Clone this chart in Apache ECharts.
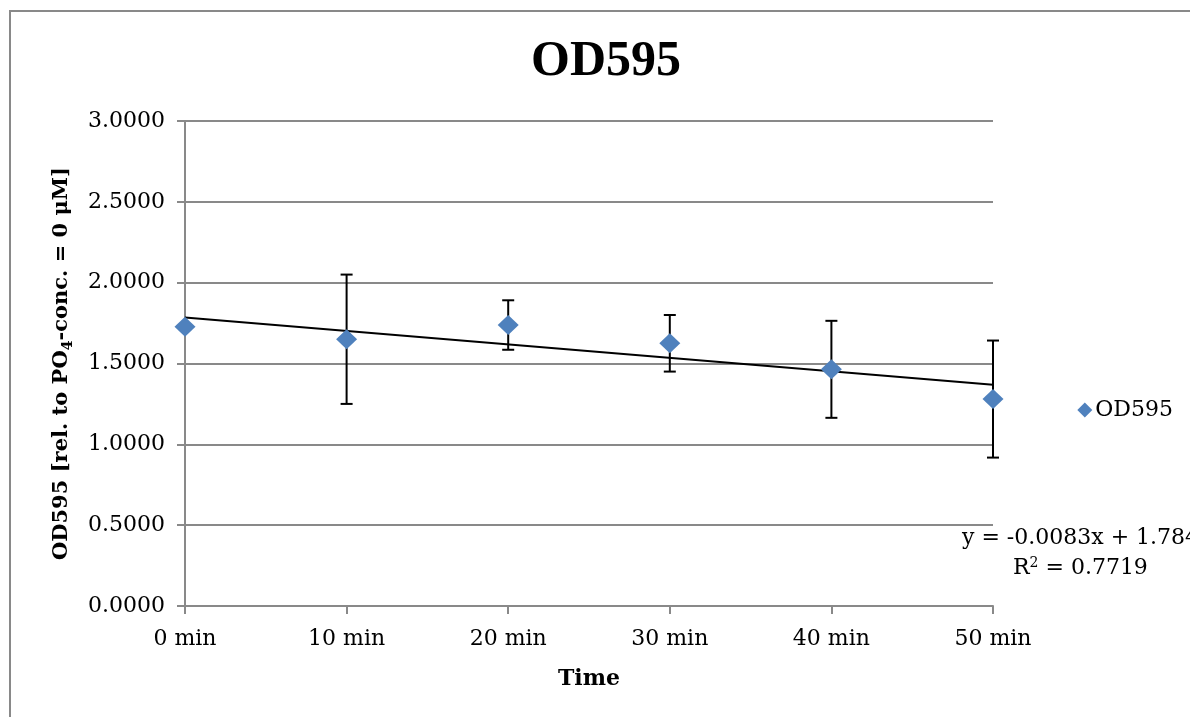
<!DOCTYPE html>
<html>
<head>
<meta charset="utf-8">
<script src="https://cdn.jsdelivr.net/npm/echarts@6/dist/echarts.min.js"></script>
<style>
  html, body { margin: 0; padding: 0; background: #fff; }
  #chart { width: 1190px; height: 717px; }
</style>
</head>
<body>
<div id="chart"></div>
<script>
// 数据
const times = [0, 10, 20, 30, 40, 50]
const od595 = [1.728, 1.650, 1.738, 1.625, 1.464, 1.280]
const errs = [0, 0.400, 0.153, 0.175, 0.300, 0.362]
const trendSlope = -0.0083
const trendIntercept = 1.784
const trendLabel = 'y = -0.0083x + 1.784'
const r2Value = '0.7719'

const serif = 'DejaVu Serif'
const gridColor = '#898989'

const chart = echarts.init(document.getElementById('chart'))

const pts = times.map((t, i) => [t, od595[i]])
const errData = times.map((t, i) => [t, od595[i] - errs[i], od595[i] + errs[i]])
const trendData = [times[0], times[times.length - 1]].map(t => [t, trendIntercept + trendSlope * t])

chart.setOption({
  animation: false,
  title: {
    text: 'OD595', left: 601, top: 32, textAlign: 'center',
    textStyle: { fontFamily: 'Liberation Serif', fontWeight: 'bold', fontSize: 50, color: '#000' },
  },
  legend: {
    right: 12, top: 394, itemWidth: 15, itemHeight: 15, itemGap: 4,
    data: [{ name: 'OD595', icon: 'diamond' }],
    textStyle: { fontFamily: serif, fontSize: 22, color: '#000', padding: [0, 0, 0, -2] },
  },
  grid: { left: 185, right: 197, top: 121, bottom: 111 },
  xAxis: {
    type: 'value', min: 0, max: 50, interval: 10,
    name: 'Time', nameLocation: 'middle', nameGap: 62,
    nameTextStyle: { fontFamily: serif, fontWeight: 'bold', fontSize: 22, color: '#000' },
    axisLine: { lineStyle: { color: gridColor, width: 2 } },
    axisTick: { show: true, length: 8, lineStyle: { color: gridColor, width: 2 } },
    axisLabel: { formatter: '{value} min', fontFamily: serif, fontSize: 22, color: '#000', margin: 22 },
    splitLine: { show: false },
  },
  yAxis: {
    type: 'value', min: 0, max: 3, interval: 0.5,
    name: 'OD595 [rel. to PO{sub|4}-conc. = 0 μM]', nameLocation: 'middle', nameGap: 110,
    nameTextStyle: {
      fontFamily: serif, fontWeight: 'bold', fontSize: 21, color: '#000',
      rich: { sub: { fontFamily: serif, fontWeight: 'bold', fontSize: 14, color: '#000', verticalAlign: 'bottom', padding: [12, 0, 0, 0] } },
    },
    axisLine: { show: true, lineStyle: { color: gridColor, width: 2 } },
    axisTick: { show: true, length: 8, lineStyle: { color: gridColor, width: 2 } },
    axisLabel: { formatter: v => v.toFixed(4), fontFamily: serif, fontSize: 22, color: '#000', margin: 20 },
    splitLine: { lineStyle: { color: gridColor, width: 2 } },
  },
  series: [
    {
      name: 'trend', type: 'line', data: trendData, symbol: 'none', z: 3,
      lineStyle: { color: '#000', width: 2 }, silent: true,
    },
    {
      name: 'err', type: 'custom', data: errData, z: 4,
      encode: { x: 0, y: [1, 2] },
      renderItem: (params, api) => {
        if (api.value(2) - api.value(1) <= 0) return
        const lo = api.coord([api.value(0), api.value(1)])
        const hi = api.coord([api.value(0), api.value(2)])
        const w = 6
        const st = { stroke: '#000', lineWidth: 2 }
        return {
          type: 'group',
          children: [
            { type: 'line', shape: { x1: hi[0], y1: hi[1], x2: lo[0], y2: lo[1] }, style: st },
            { type: 'line', shape: { x1: hi[0] - w, y1: hi[1], x2: hi[0] + w, y2: hi[1] }, style: st },
            { type: 'line', shape: { x1: lo[0] - w, y1: lo[1], x2: lo[0] + w, y2: lo[1] }, style: st },
          ],
        }
      },
    },
    {
      name: 'OD595', type: 'scatter', data: pts, symbol: 'diamond', symbolSize: [21, 20], z: 5,
      itemStyle: { color: '#4F81BD', opacity: 1 },
    },
  ],
  graphic: [
    { type: 'rect', shape: { x: 10, y: 11, width: 1300, height: 800 }, style: { fill: 'none', stroke: gridColor, lineWidth: 2 }, silent: true },
    {
      type: 'text', left: 962, top: 527,
      style: { text: trendLabel, fontFamily: serif, fontSize: 22, fill: '#000' },
    },
    {
      type: 'text', left: 1013, top: 556,
      style: {
        text: 'R{sup|2} = ' + r2Value, fontFamily: serif, fontSize: 22, fill: '#000',
        rich: { sup: { fontFamily: serif, fontSize: 14, fill: '#000', verticalAlign: 'top', padding: [0, 0, 10, 0] } },
      },
    },
  ],
})
</script>
</body>
</html>
